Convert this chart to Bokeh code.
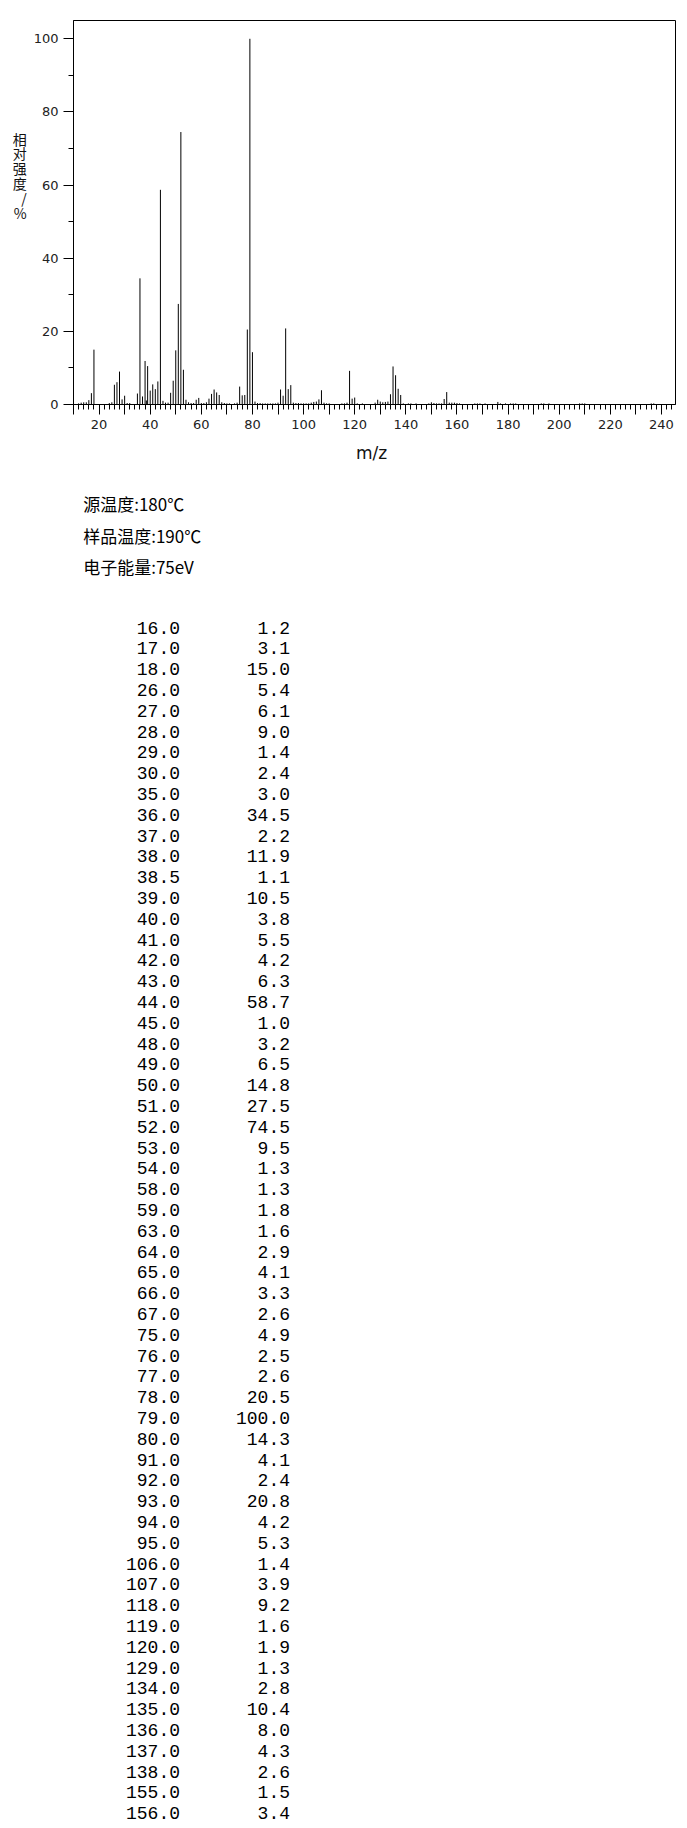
from bokeh.plotting import figure
from bokeh.models import Range1d, FixedTicker, ColumnDataSource
from bokeh.layouts import column
from bokeh.embed import file_html
from bokeh.resources import INLINE
from bokeh.core.properties import value

# ---- listed peaks (m/z, relative intensity %) ----
table_mz = [16.0, 17.0, 18.0, 26.0, 27.0, 28.0, 29.0, 30.0, 35.0, 36.0, 37.0, 38.0, 38.5,
            39.0, 40.0, 41.0, 42.0, 43.0, 44.0, 45.0, 48.0, 49.0, 50.0, 51.0, 52.0, 53.0,
            54.0, 58.0, 59.0, 63.0, 64.0, 65.0, 66.0, 67.0, 75.0, 76.0, 77.0, 78.0, 79.0,
            80.0, 91.0, 92.0, 93.0, 94.0, 95.0, 106.0, 107.0, 118.0, 119.0, 120.0, 129.0,
            134.0, 135.0, 136.0, 137.0, 138.0, 155.0, 156.0]
table_int = [1.2, 3.1, 15.0, 5.4, 6.1, 9.0, 1.4, 2.4, 3.0, 34.5, 2.2, 11.9, 1.1,
             10.5, 3.8, 5.5, 4.2, 6.3, 58.7, 1.0, 3.2, 6.5, 14.8, 27.5, 74.5, 9.5,
             1.3, 1.3, 1.8, 1.6, 2.9, 4.1, 3.3, 2.6, 4.9, 2.5, 2.6, 20.5, 100.0,
             14.3, 4.1, 2.4, 20.8, 4.2, 5.3, 1.4, 3.9, 9.2, 1.6, 1.9, 1.3,
             2.8, 10.4, 8.0, 4.3, 2.6, 1.5, 3.4]

# ---- small peaks (< 1 %) ----
small_mz = [12, 13, 14, 15, 24, 25, 31, 32, 46, 47, 55, 56, 57, 60, 61, 62, 68, 69, 70, 71,
            73, 74, 81, 82, 83, 84, 85, 86, 87, 88, 89, 90, 96, 97, 98, 99, 100, 101, 102,
            103, 104, 105, 108, 109, 110, 115, 116, 117, 121, 123, 128, 130, 131, 132, 133,
            139, 141, 142, 144, 149, 150, 151, 152, 153, 154, 157, 158, 159, 160, 161, 167,
            168, 169, 171, 176, 177, 179, 181, 182, 183, 193, 194, 196, 208, 209, 210, 236, 237]
small_int = [0.3, 0.5, 0.6, 0.6, 0.4, 0.6, 0.4, 0.4, 0.5, 0.5, 0.6, 0.4, 0.4, 0.4, 0.4, 0.6,
             0.6, 0.4, 0.3, 0.3, 0.3, 0.5, 0.8, 0.4, 0.4, 0.3, 0.3, 0.3, 0.3, 0.3, 0.3, 0.5,
             0.5, 0.4, 0.4, 0.3, 0.3, 0.3, 0.3, 0.5, 0.7, 0.8, 0.5, 0.3, 0.3, 0.3, 0.3, 0.5,
             0.3, 0.3, 0.5, 0.8, 0.6, 0.7, 0.8, 0.3, 0.3, 0.3, 0.3, 0.3, 0.6, 0.4, 0.3, 0.3,
             0.3, 0.5, 0.5, 0.5, 0.4, 0.3, 0.3, 0.3, 0.3, 0.3, 0.7, 0.3, 0.3, 0.3, 0.3, 0.3,
             0.3, 0.3, 0.3, 0.3, 0.3, 0.3, 0.3, 0.3]

x_major_ticks = list(range(10, 250, 10))
x_minor_ticks = list(range(10, 246, 2))
y_major_ticks = [0, 20, 40, 60, 80, 100]
y_minor_ticks = [10, 30, 50, 70, 90]

x_label = "m/z"
y_label_lines = ["相", "对", "强", "度", "/", "%"]
info_lines = ["源温度:180℃", "样品温度:190℃", "电子能量:75eV"]

# ---------------- spectrum figure ----------------
BL, BR = 73, 10          # left / right borders shared by both figures
FW = 602                 # frame width
p = figure(frame_width=FW, frame_height=384,
           min_border_left=BL, min_border_right=BR, min_border_top=20, min_border_bottom=34,
           x_range=Range1d(10, 245.5), y_range=Range1d(0, 105.0),
           output_backend="svg", toolbar_location=None)
p.xgrid.visible = False
p.ygrid.visible = False
p.outline_line_color = "black"
p.outline_line_width = 1

all_mz = table_mz + small_mz
all_int = table_int + small_int
src = ColumnDataSource(dict(x=all_mz, y0=[0] * len(all_mz), y1=all_int))
p.segment(x0="x", y0="y0", x1="x", y1="y1", source=src, line_color="black", line_width=1)

xa = p.xaxis[0]
xa.ticker = FixedTicker(ticks=x_major_ticks, minor_ticks=x_minor_ticks)
xa.major_label_overrides = {t: (str(t) if t % 20 == 0 else "") for t in x_major_ticks}
ya = p.yaxis[0]
ya.ticker = FixedTicker(ticks=y_major_ticks, minor_ticks=y_minor_ticks)
for ax in (xa, ya):
    ax.axis_line_color = "black"
    ax.major_tick_line_color = "black"
    ax.minor_tick_line_color = "black"
    ax.major_tick_in = 0
    ax.major_tick_out = 10
    ax.minor_tick_in = 0
    ax.minor_tick_out = 5
    ax.major_label_text_font = "DejaVu Sans"
    ax.major_label_text_font_size = "13px"
    ax.major_label_text_color = "#222222"
    ax.major_label_standoff = 5

# stacked (upright) y-axis title; trailing empty lines lift it above the frame centre
ya.axis_label = "\n".join(y_label_lines + [""] * 5)
ya.axis_label_orientation = "horizontal"
ya.axis_label_text_font = "Noto Sans CJK SC"
ya.axis_label_text_font_size = "14px"
ya.axis_label_text_font_style = "normal"
ya.axis_label_text_color = "#111111"
ya.axis_label_text_line_height = 0.74
ya.axis_label_standoff = 4

# ---------------- text / table figure ----------------
TOP = 20 + 384 + 34      # page y where the second figure starts
TH = 1389
t = figure(frame_width=FW, frame_height=TH,
           min_border_left=BL, min_border_right=BR, min_border_top=0, min_border_bottom=0,
           x_range=Range1d(BL, BL + FW), y_range=Range1d(TOP + TH, TOP),
           x_axis_type=None, y_axis_type=None,
           output_backend="svg", toolbar_location=None)
t.grid.visible = False
t.outline_line_color = None

t.text(x=[371], y=[452], text=[x_label], text_font=value("DejaVu Sans"),
       text_font_size="17px", text_color="#111111", text_align="center",
       text_baseline="middle")

t.text(x=[82.7] * len(info_lines), y=[503, 534.7, 566.3], text=info_lines,
       text_font=value("Noto Sans CJK SC"), text_font_size="17px",
       text_color="black", text_align="left", text_baseline="middle")

row_y = [627 + i * 20.8 for i in range(len(table_mz))]
t.text(x=[179.5] * len(table_mz), y=row_y, text=[f"{m:.1f}" for m in table_mz],
       text_font=value("Liberation Mono"), text_font_size="18px",
       text_color="black", text_align="right", text_baseline="middle")
t.text(x=[289.5] * len(table_int), y=row_y, text=[f"{v:.1f}" for v in table_int],
       text_font=value("Liberation Mono"), text_font_size="18px",
       text_color="black", text_align="right", text_baseline="middle")

layout = column(p, t)
open("out.html", "w").write(file_html(layout, INLINE))
